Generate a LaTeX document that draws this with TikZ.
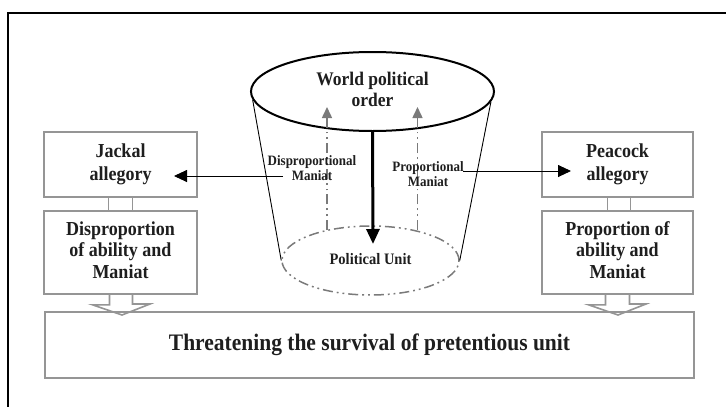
\documentclass[tikz,border=0pt]{standalone}
\usepackage{fontspec}
\usepackage{graphicx}
\setmainfont{Liberation Serif}
\usetikzlibrary{shapes.geometric,arrows.meta}
\definecolor{boxgray}{HTML}{959595}
\definecolor{dgray}{HTML}{7A7A7A}
\definecolor{txt}{HTML}{1E1E1E}
\newcommand{\vst}[1]{\scalebox{1}[1.1]{\begin{tabular}{@{}c@{}}#1\end{tabular}}}
\tikzset{
  gbox/.style={draw=boxgray, line width=1.6pt, minimum width=153pt, minimum height=65pt,
    align=center, inner sep=0pt, text=txt, font=\fontsize{18}{19.5}\selectfont\bfseries},
  glink/.style={draw=boxgray, line width=1.6pt},
  dashdd/.style={draw=dgray, line width=1.5pt, dash pattern=on 10pt off 4pt on 1.8pt off 4pt on 1.8pt off 4pt},
  upar/.style={dashdd, -{Triangle[width=10pt,length=11pt,fill=dgray]}},
  thinar/.style={draw=black, line width=0.9pt, -{Triangle[width=12pt,length=13pt]}},
  lbl/.style={align=center, inner sep=0pt, text=txt, font=\fontsize{13}{13.5}\selectfont\bfseries},
}
\begin{document}
\begin{tikzpicture}[x=1pt,y=-1pt]
\clip (0,0) rectangle (726,407);
\fill[white] (0,0) rectangle (726,407);
% outer frame
\draw[line width=1.5pt] (8,13) rectangle (745,430);

% cylinder
\node[ellipse, draw, line width=2pt, minimum width=243pt, minimum height=79pt, inner sep=0pt,
      align=center, text=txt, font=\fontsize{17.5}{19}\selectfont\bfseries]
      (top) at (372.5,91.5) {\vst{World political\\order}};
\node[ellipse, dashdd, minimum width=177pt, minimum height=69pt, inner sep=0pt,
      text=txt, font=\fontsize{14.5}{16}\selectfont\bfseries]
      (bot) at (370.5,260.5) {\vst{Political Unit}};
\draw[line width=0.9pt] (top.184) -- (bot.west);
\draw[line width=0.9pt] (top.355) -- (bot.east);

% dash-dot up arrows
\coordinate (l0) at (327,230);
\coordinate (l1) at (327,107);
\coordinate (r0) at (417.5,230);
\coordinate (r1) at (417.5,107);
\draw[upar] (l0) -- (l1);
\draw[upar] (r0) -- (r1);

% central thick arrow
\coordinate (cend) at (373,244);
\draw[line width=3pt, -{Triangle[width=13pt,length=15pt]}] (top.south) -- (cend);

% side boxes
\node[gbox] (jackal) at (120.5,164.5) {\vst{Jackal\\[1.5pt]allegory}};
\node[gbox, minimum height=83pt] (disprop) at (120.5,252.5) {\vst{Disproportion\\of ability and\\Maniat}};
\node[gbox, minimum width=151pt] (peacock) at (617.5,164.5) {\vst{Peacock\\[1.5pt]allegory}};
\node[gbox, minimum width=151pt, minimum height=83pt] (prop) at (617.5,252.5) {\vst{Proportion of\\ability and\\Maniat}};
\node[gbox, minimum width=649pt, minimum height=66pt, font=\fontsize{21.5}{24}\selectfont\bfseries]
   (threat) at (369.5,345) {\vst{Threatening the survival of pretentious unit}};

% links between boxes
\draw[glink] ([xshift=-12pt]jackal.south) -- ([xshift=-12pt]disprop.north);
\draw[glink] ([xshift=12pt]jackal.south) -- ([xshift=12pt]disprop.north);
\draw[glink] ([xshift=-10pt]peacock.south) -- ([xshift=-10pt]prop.north);
\draw[glink] ([xshift=13pt]peacock.south) -- ([xshift=13pt]prop.north);

% hollow down arrows
\draw[glink, line join=miter] ([xshift=-11pt]disprop.south) -- ++(0,10) -- ++(-17,0) -- (122,315)
   -- (150,304) -- ([xshift=12pt]disprop.south |- 0,304) -- ([xshift=12pt]disprop.south);
\draw[glink, line join=miter] ([xshift=-12pt]prop.south) -- ++(0,10) -- ++(-17,0) -- (618,315)
   -- (646,304) -- ([xshift=12pt]prop.south |- 0,304) -- ([xshift=12pt]prop.south);

% labels
\node[lbl] (dlab) at (312,170) {\vst{Disproportional\\Maniat}};
\node[lbl] (plab) at (428,176) {\vst{Proportional\\Maniat}};

% horizontal arrows
\coordinate (ds) at (283,176);
\coordinate (de) at (174,176);
\coordinate (ps) at (463,171);
\coordinate (pe) at (571,171);
\draw[thinar] (ds) -- (de);
\draw[thinar] (ps) -- (pe);
\end{tikzpicture}
\end{document}
